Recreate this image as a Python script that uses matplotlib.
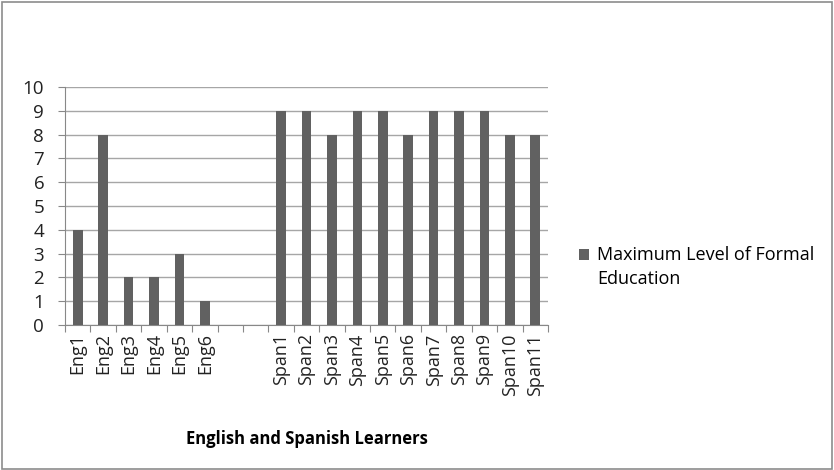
import matplotlib.pyplot as plt
from matplotlib.patches import Rectangle

# categories (two empty slots between the groups, as in the original)
categories = ["Eng1", "Eng2", "Eng3", "Eng4", "Eng5", "Eng6", "", " ",
              "Span1", "Span2", "Span3", "Span4", "Span5", "Span6",
              "Span7", "Span8", "Span9", "Span10", "Span11"]
education = [4, 8, 2, 2, 3, 1, 0, 0,
             9, 9, 8, 9, 9, 8, 9, 9, 9, 8, 8]
y_ticks = list(range(0, 11))

series_name = "Maximum Level of Formal\nEducation"
x_title = "English and Spanish Learners"

plt.rcParams["font.family"] = ["Open Sans", "DejaVu Sans"]

fig = plt.figure(figsize=(8.34, 4.70), dpi=100)
fig.patches.append(Rectangle((0.002, 0.002), 0.996, 0.994, transform=fig.transFigure,
                             fill=False, edgecolor="#8c8c8c", linewidth=1.2))

ax = fig.add_axes([65 / 834, 145 / 470, 483 / 834, 238 / 470])

x = list(range(len(categories)))
bars = ax.bar(x, education, width=0.38, color="#616161", label=series_name, zorder=3)

ax.set_xlim(-0.5, len(categories) - 0.5)
ax.set_ylim(0, 10)
ax.set_yticks(y_ticks)
ax.yaxis.grid(True, color="#a6a6a6", linewidth=1, zorder=0)

ax.set_xticks([i + 0.5 for i in range(-1, len(categories))])
ax.set_xticklabels([])
ax.set_xticks(x, minor=True)
ax.set_xticklabels(categories, minor=True, rotation=90, fontsize=13, color="#222222")
ax.tick_params(axis="x", which="minor", length=0, pad=6)
ax.tick_params(axis="x", which="major", length=5, color="#888888", direction="out")
ax.tick_params(axis="y", length=5, color="#888888", labelsize=13.5, pad=10, labelcolor="#222222")

for s in ["top", "right"]:
    ax.spines[s].set_visible(False)
for s in ["left", "bottom"]:
    ax.spines[s].set_color("#888888")

ax.set_xlabel(x_title, fontsize=12, fontweight="bold", labelpad=25)

leg = ax.legend(loc="center left", bbox_to_anchor=(1.05, 0.245), frameon=False, fontsize=13,
                handlelength=0.55, handleheight=0.55, handletextpad=0.45, borderaxespad=0)
for t in leg.get_texts():
    t.set_linespacing(1.45)
# excel puts the square next to the first line of a wrapped entry
handle = leg.legend_handles[0]
handle.set_y(handle.get_y() + 9.4)

fig.savefig("out.png", dpi=100)
